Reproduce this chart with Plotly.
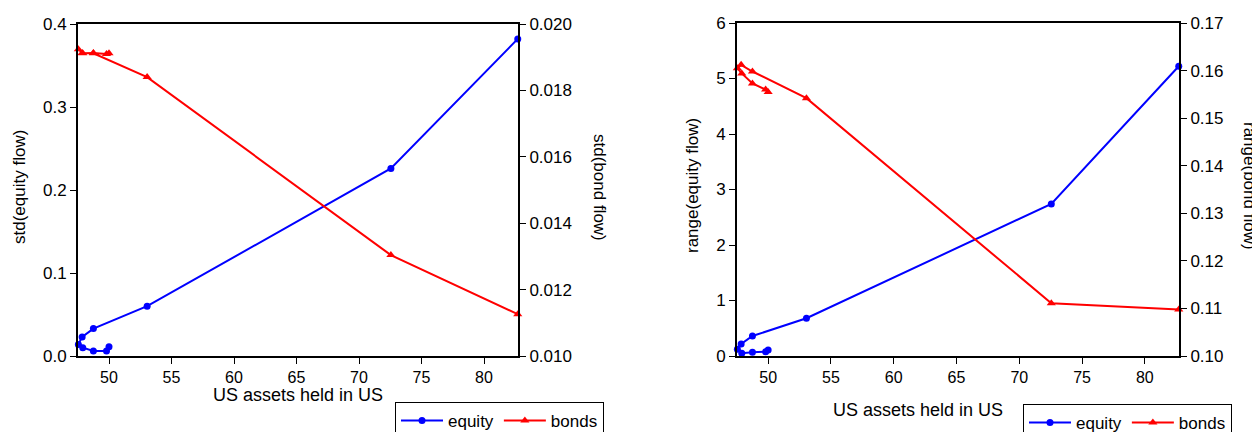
import plotly.graph_objects as go

# Data
us_assets = [50.0, 49.8, 48.75, 47.9, 47.55, 47.85, 48.75, 53.05, 72.55, 82.7]
std_equity = [0.011, 0.006, 0.006, 0.010, 0.014, 0.023, 0.033, 0.060, 0.226, 0.382]
std_bond = [0.01912, 0.01910, 0.01913, 0.01912, 0.01924, 0.01913, 0.01912, 0.0184, 0.01304, 0.01126]
range_equity = [0.108, 0.078, 0.067, 0.05, 0.12, 0.216, 0.36, 0.68, 2.74, 5.22]
range_bond = [0.1555, 0.1560, 0.1573, 0.1594, 0.1605, 0.1612, 0.1598, 0.1542, 0.1111, 0.1098]

x_ticks = [50, 55, 60, 65, 70, 75, 80]

BLUE = "#0000FF"
RED = "#FF0000"
FONT = "Liberation Sans, Arial, sans-serif"

fig = go.Figure()

fig.add_trace(go.Scatter(x=us_assets, y=std_equity, mode="lines+markers", name="equity",
                         line=dict(color=BLUE, width=2), marker=dict(symbol="circle", size=7, color=BLUE),
                         xaxis="x", yaxis="y", legend="legend", cliponaxis=False))
fig.add_trace(go.Scatter(x=us_assets, y=std_bond, mode="lines+markers", name="bonds",
                         line=dict(color=RED, width=2), marker=dict(symbol="triangle-up", size=8, color=RED),
                         xaxis="x", yaxis="y2", legend="legend", cliponaxis=False))
fig.add_trace(go.Scatter(x=us_assets, y=range_equity, mode="lines+markers", name="equity",
                         line=dict(color=BLUE, width=2), marker=dict(symbol="circle", size=7, color=BLUE),
                         xaxis="x2", yaxis="y3", legend="legend2", cliponaxis=False))
fig.add_trace(go.Scatter(x=us_assets, y=range_bond, mode="lines+markers", name="bonds",
                         line=dict(color=RED, width=2), marker=dict(symbol="triangle-up", size=8, color=RED),
                         xaxis="x2", yaxis="y4", legend="legend2", cliponaxis=False))

# The page body has an 8px default margin; the figure is sized to fill the rest of the window.
OFF = 8
W, H = 1260 - OFF, 432 - OFF
def px_x(p):
    return (p - OFF) / W
def px_y(p):
    return 1 - (p - OFF) / H

ax_common = dict(showline=True, linecolor="black", linewidth=2, ticks="outside", ticklen=6,
                 tickwidth=1, tickcolor="black", showgrid=False, zeroline=False, automargin=False)
y_tickfont = dict(family=FONT, size=17, color="black")
x_tickfont = dict(family=FONT, size=16, color="black")

xr = [47.52, 82.72]
fig.update_layout(
    width=W, height=H,
    margin=dict(l=0, r=0, t=0, b=0, autoexpand=False),
    plot_bgcolor="white", paper_bgcolor="white",
    font=dict(family=FONT, size=17, color="black"),
    xaxis=dict(domain=[px_x(78), px_x(518)], range=xr, anchor="y", tickvals=x_ticks, mirror=True,
               tickfont=x_tickfont, **ax_common),
    yaxis=dict(domain=[px_y(356), px_y(24)], range=[0, 0.4], anchor="x", tickvals=[0, 0.1, 0.2, 0.3, 0.4],
               tickformat=".1f", tickfont=y_tickfont, **ax_common),
    yaxis2=dict(overlaying="y", side="right", anchor="x", range=[0.010, 0.020],
                tickvals=[0.010, 0.012, 0.014, 0.016, 0.018, 0.020], tickformat=".3f",
                tickfont=y_tickfont, **ax_common),
    xaxis2=dict(domain=[px_x(737), px_x(1179)], range=xr, anchor="y3", tickvals=x_ticks, mirror=True,
                tickfont=x_tickfont, **ax_common),
    yaxis3=dict(domain=[px_y(356), px_y(23)], range=[0, 6], anchor="x2", tickvals=[0, 1, 2, 3, 4, 5, 6],
                tickfont=y_tickfont, **ax_common),
    yaxis4=dict(overlaying="y3", side="right", anchor="x2", range=[0.10, 0.17],
                tickvals=[0.10, 0.11, 0.12, 0.13, 0.14, 0.15, 0.16, 0.17], tickformat=".2f",
                tickfont=y_tickfont, **ax_common),
    legend=dict(x=px_x(395), y=px_y(402), xanchor="left", yanchor="top", orientation="h",
                bordercolor="black", borderwidth=1, font=dict(family=FONT, size=17), bgcolor="white",
                itemwidth=42),
    legend2=dict(x=px_x(1023), y=px_y(404), xanchor="left", yanchor="top", orientation="h",
                 bordercolor="black", borderwidth=1, font=dict(family=FONT, size=17), bgcolor="white",
                 itemwidth=42),
    showlegend=True,
)

ytitle_font = dict(family=FONT, size=17, color="black")
xtitle_font = dict(family=FONT, size=18, color="black")
annots = [
    dict(text="std(equity flow)", x=px_x(19), y=px_y(187), textangle=-90, font=ytitle_font),
    dict(text="std(bond flow)", x=px_x(600), y=px_y(187), textangle=90, font=ytitle_font),
    dict(text="US assets held in US", x=px_x(298), y=px_y(395), textangle=0, font=xtitle_font),
    dict(text="range(equity flow)", x=px_x(693), y=px_y(186), textangle=-90, font=ytitle_font),
    dict(text="range(bond flow)", x=px_x(1249), y=px_y(186), textangle=90, font=ytitle_font),
    dict(text="US assets held in US", x=px_x(918), y=px_y(410), textangle=0, font=xtitle_font),
]
for a in annots:
    fig.add_annotation(xref="paper", yref="paper", showarrow=False, xanchor="center", yanchor="middle", **a)

fig.write_html("out.html")
